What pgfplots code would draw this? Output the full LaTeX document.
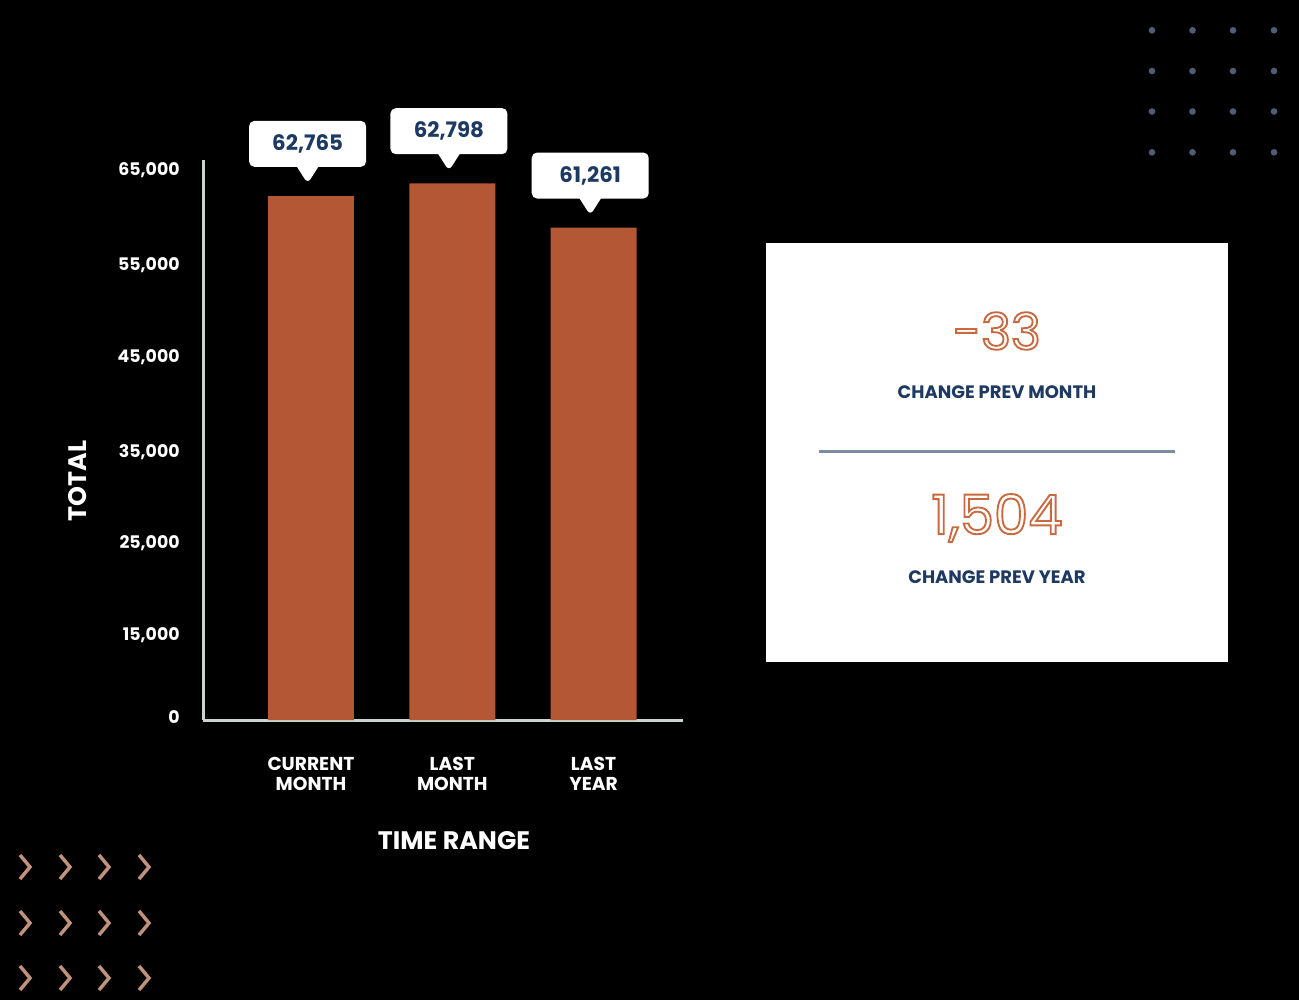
\documentclass[border=0pt]{standalone}
\usepackage{fontspec}
\setmainfont{Poppins}
\usepackage{pgfplots}
\pgfplotsset{compat=1.18}
\usetikzlibrary{shapes.callouts}
\definecolor{barc}{HTML}{B35735}
\definecolor{axc}{HTML}{C8D6CF}
\definecolor{navy}{HTML}{1E3A62}
\definecolor{dotc}{HTML}{505D75}
\definecolor{chev}{HTML}{C0917B}
\definecolor{rulec}{HTML}{7C8BA6}
% stroked (outline) text through the pdf text render mode
\newcommand\outlined[1]{\special{pdf:literal direct 1 Tr 1.4 w 0.79 0.41 0.25 RG}#1\special{pdf:literal direct 0 Tr}}
\tikzset{bubble/.style={rectangle callout, fill=white, rounded corners=4pt,
  minimum width=87.75pt, minimum height=34.5pt, inner sep=0pt,
  callout relative pointer={(0pt,-12.5pt)}, callout pointer width=16pt,
  text=navy, font=\fontsize{16}{18}\selectfont\bfseries}}
\begin{document}
\begin{tikzpicture}
\begin{scope}[x=0.75pt,y=-0.75pt]
\fill[black] (0,0) rectangle (1299,1000);
% dot grid, top right
\foreach \cx in {1152,1192.5,1233,1274}
  \foreach \cy in {30.3,71,111.5,152.3}
    \fill[dotc] (\cx,\cy) circle (2.5pt);
% chevrons, bottom left
\foreach \cx in {25,65,104,144}
  \foreach \cy in {867,923,978}
    \draw[chev, line width=2.6pt, miter limit=10]
      (\cx-5,\cy-12) -- (\cx+5,\cy) -- (\cx-5,\cy+12);
% summary panel
\fill[white] (766,243) rectangle (1228,662);
\node[font=\fontsize{38}{40}\selectfont] at (997,331) {\outlined{-33}};
\node[text=navy, font=\fontsize{13.5}{15}\selectfont\bfseries] at (997,392) {CHANGE PREV MONTH};
\draw[rulec, line width=2.25pt] (819,451) -- (1175,451);
\node[font=\fontsize{41}{43}\selectfont] at (997,518) {\outlined{1,504}};
\node[text=navy, font=\fontsize{13.5}{15}\selectfont\bfseries] at (997,577) {CHANGE PREV YEAR};
\end{scope}

\begin{axis}[
  at={(152.25pt,-540pt)}, anchor=south west,
  width=359.8pt, height=420pt, scale only axis,
  xmin=-0.764, xmax=2.631, ymin=0, ymax=66242,
  axis lines=left,
  axis line style={-, draw=axc, line width=2.25pt},
  major tick length=0pt,
  scaled y ticks=false,
  xtick={0,1,2},
  xticklabels={{CURRENT\\MONTH},{LAST\\MONTH},{LAST\\YEAR}},
  xticklabel style={text=white, align=center, yshift=-24.5pt,
    font=\fontsize{14}{15}\selectfont\bfseries},
  ytick={355,10055,20937,31702,42940,53822,65000},
  yticklabels={0,{15,000},{25,000},{35,000},{45,000},{55,000},{65,000}},
  yticklabel style={text=white, anchor=east, xshift=-14pt,
    font=\fontsize{13}{15}\selectfont\bfseries},
  xlabel={TIME RANGE},
  ylabel={TOTAL},
  every axis x label/.style={at={(rel axis cs:0.5232,-0.216)}, anchor=center,
    text=white, font=\fontsize{19}{21}\selectfont\bfseries},
  every axis y label/.style={at={(rel axis cs:-0.2606,0.4268)}, anchor=center,
    rotate=90, text=white, font=\fontsize{19}{21}\selectfont\bfseries},
]
\addplot[ybar, bar width=64.5pt, fill=barc, draw=none,
  nodes near coords, point meta=explicit symbolic,
  every node near coord/.append style={bubble, anchor=pointer,
    xshift=-2.5pt, yshift=9pt}]
  table[meta=lab] {
x y lab
0 61984 62,765
1 63486 62,798
2 58234 61,261
};
\end{axis}
\end{tikzpicture}
\end{document}
